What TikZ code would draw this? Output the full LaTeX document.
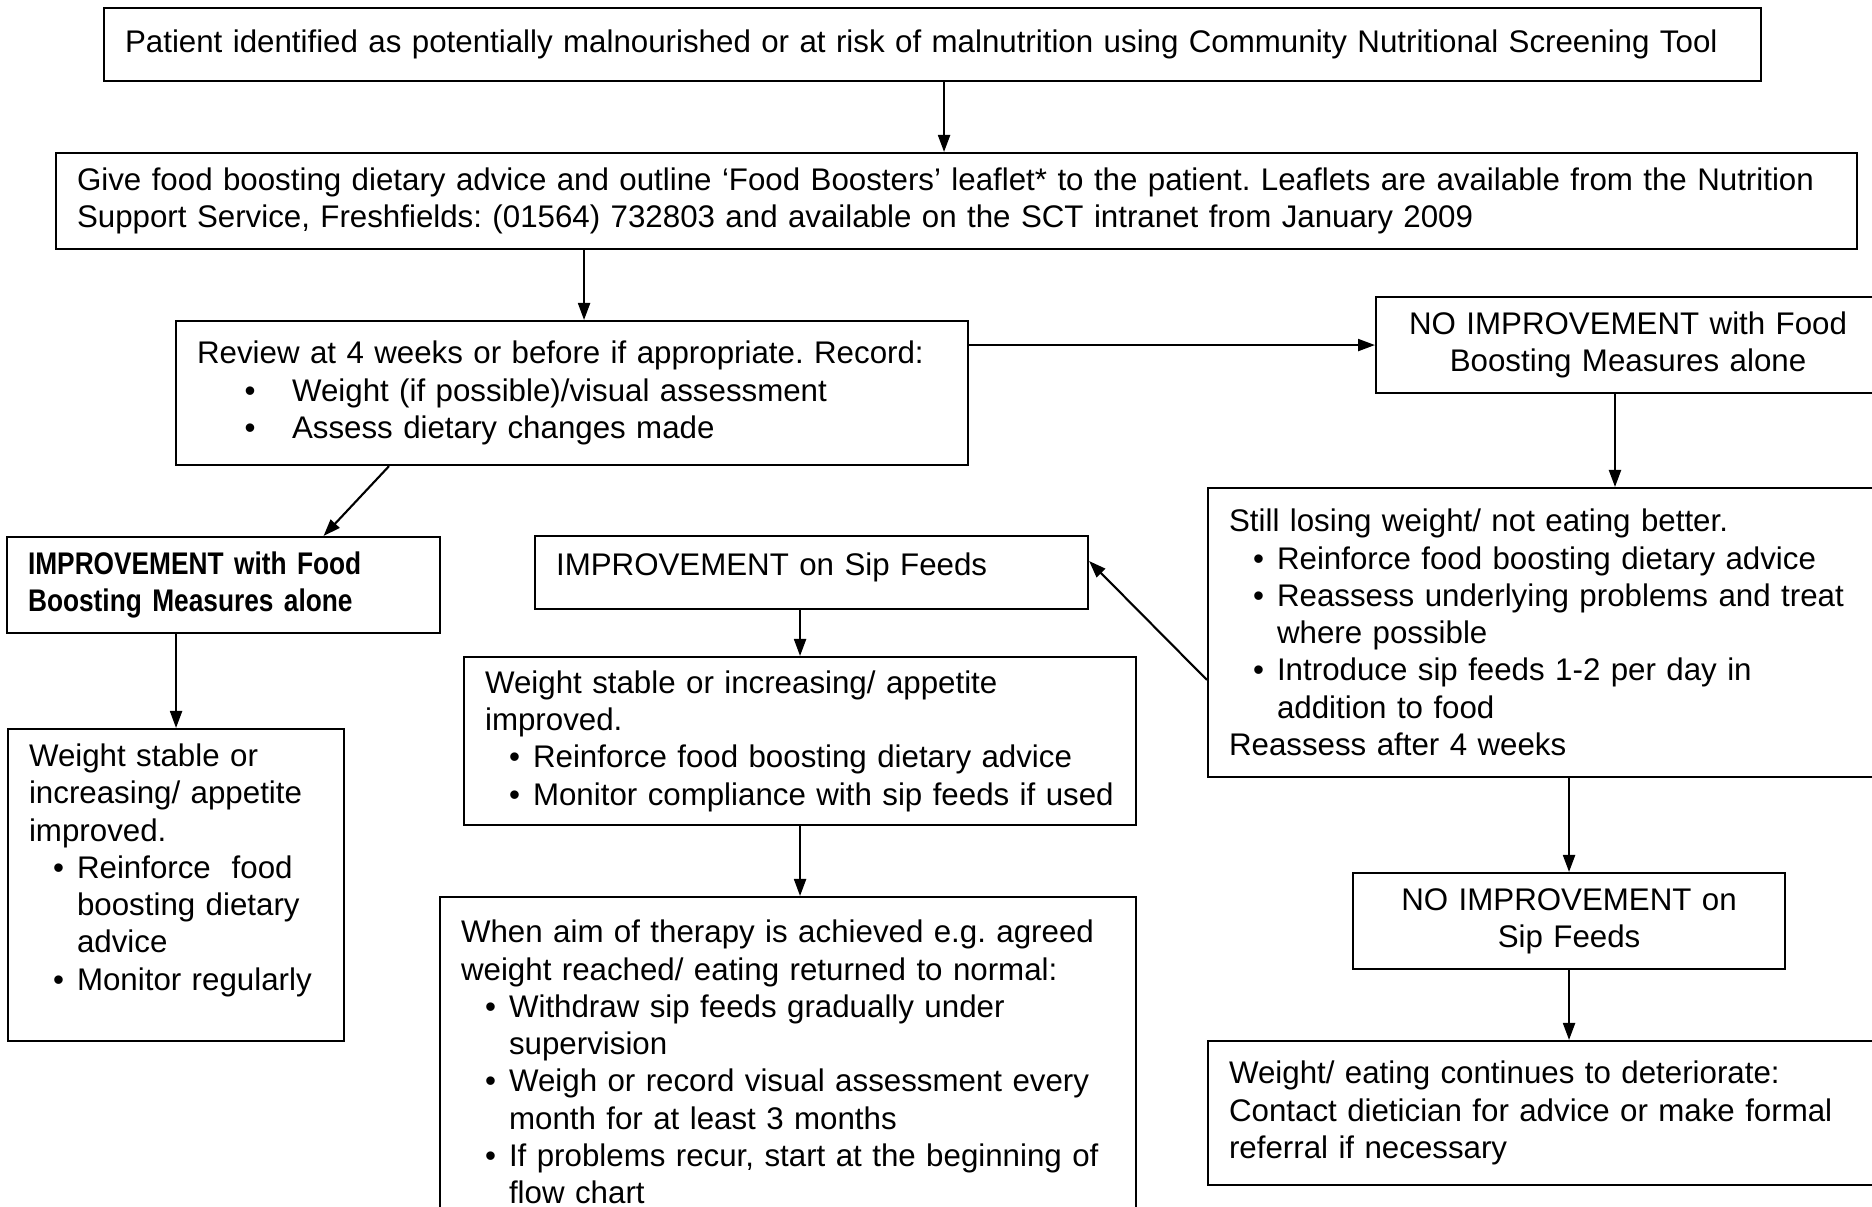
\documentclass[tikz,border=0pt]{standalone}
\usepackage{fontspec}
\setmainfont{Liberation Sans}
\newfontfamily\narrowfont[FakeStretch=0.84]{Liberation Sans}
\usetikzlibrary{arrows.meta}
\frenchspacing

% bullet point with hanging text
\newcommand{\pnt}[2][0.48cm]{{\par\leftskip=#1\noindent\llap{\makebox[0.5\leftskip][l]{\textbullet}}#2\par}}

\begin{document}
\begin{tikzpicture}[
	box/.style={draw, line width=0.6pt, anchor=north west, align=left, inner xsep=0.21cm, inner ysep=0pt,
		font=\fontsize{8.9}{10.6}\selectfont, execute at begin node={\setlength{\parindent}{0pt}}},
	arr/.style={-{Triangle[length=0.17cm,width=0.12cm]}, line width=0.6pt}]
	\useasboundingbox (0,0) rectangle (18.72,-12.07);
	\clip (0,0) rectangle (18.72,-12.07);
	% screening
		\node[box, text width=16.15cm, minimum height=0.73cm] (patient) at (1.03,-0.07)
			{Patient identified as potentially malnourished or at risk of malnutrition using Community Nutritional Screening Tool};
		\node[box, text width=17.59cm, minimum height=0.96cm] (advice) at (0.55,-1.52)
			{Give food boosting dietary advice and outline ‘Food Boosters’ leaflet* to the patient. Leaflets are available from the Nutrition\newline Support Service, Freshfields: (01564) 732803 and available on the SCT intranet from January 2009};
	% review at 4 weeks
		\node[box, text width=7.5cm, minimum height=1.44cm] (review) at (1.75,-3.20)
			{Review at 4 weeks or before if appropriate. Record:
			\pnt[0.95cm]{Weight (if possible)/visual assessment}
			\pnt[0.95cm]{Assess dietary changes made}};
		\node[box, align=center, text width=4.62cm, minimum height=0.96cm] (noimp) at (13.75,-2.96)
			{NO IMPROVEMENT with Food\\Boosting Measures alone};
	% left branch
		\node[box, text width=3.91cm, minimum height=0.96cm, font=\fontsize{8.9}{10.6}\selectfont\narrowfont\bfseries] (better) at (0.06,-5.36)
			{IMPROVEMENT with Food\\Boosting Measures alone};
		\node[box, text width=2.94cm, minimum height=3.12cm] (stable) at (0.07,-7.28)
			{Weight stable or\newline increasing/ appetite\newline improved.
			\pnt{Reinforce\ \ food\newline boosting dietary\newline advice}
			\pnt{Monitor regularly\rule[-0.36cm]{0pt}{0.1cm}}};
	% middle branch
		\node[box, text width=5.11cm, minimum height=0.73cm] (sip) at (5.34,-5.35)
			{IMPROVEMENT on Sip Feeds\vspace{0.1cm}};
		\node[box, text width=6.30cm, minimum height=1.68cm] (gain) at (4.63,-6.56)
			{Weight stable or increasing/ appetite\newline improved.
			\pnt{Reinforce food boosting dietary advice}
			\pnt{Monitor compliance with sip feeds if used}};
		\node[box, text width=6.54cm, minimum height=3.3cm] (aim) at (4.39,-8.96)
			{When aim of therapy is achieved e.g. agreed\newline weight reached/ eating returned to normal:
			\pnt{Withdraw sip feeds gradually under\newline supervision}
			\pnt{Weigh or record visual assessment every\newline month for at least 3 months}
			\pnt{If problems recur, start at the beginning of\newline flow chart}};
	% right branch
		\node[box, text width=6.38cm, minimum height=2.89cm] (losing) at (12.07,-4.87)
			{Still losing weight/ not eating better.
			\pnt{Reinforce food boosting dietary advice}
			\pnt{Reassess underlying problems and treat\newline where possible}
			\pnt{Introduce sip feeds 1-2 per day in\newline addition to food}
			Reassess after 4 weeks};
		\node[box, align=center, text width=3.9cm, minimum height=0.96cm] (nosip) at (13.52,-8.72)
			{NO IMPROVEMENT on\\Sip Feeds};
		\node[box, text width=6.38cm, minimum height=1.44cm] (worse) at (12.07,-10.40)
			{Weight/ eating continues to deteriorate:\newline Contact dietician for advice or make formal\newline referral if necessary};
	% arrows
		\draw[arr] ([xshift=0.115cm]patient.south) -- ([xshift=0.115cm]patient.south |- advice.north);
		\draw[arr] ([xshift=0.12cm]review.north |- advice.south) -- ([xshift=0.12cm]review.north);
		\draw[arr] (review.east |- noimp.west) -- (noimp.west);
		\draw[arr] ([xshift=-1.83cm]review.south) -- ([xshift=1cm]better.north);
		\draw[arr] (stable.north |- better.south) -- (stable.north);
		\draw[arr] ([xshift=2.4cm]noimp.south west) -- ([xshift=2.4cm]noimp.south west |- losing.north);
		\draw[arr] ([yshift=-1.93cm]losing.north west) -- ([yshift=0.115cm]sip.east);
		\draw[arr] (gain.north |- sip.south) -- (gain.north);
		\draw[arr] (gain.south) -- (gain.south |- aim.north);
		\draw[arr] (nosip.north |- losing.south) -- (nosip.north);
		\draw[arr] (nosip.south) -- (nosip.south |- worse.north);
\end{tikzpicture}
\end{document}
